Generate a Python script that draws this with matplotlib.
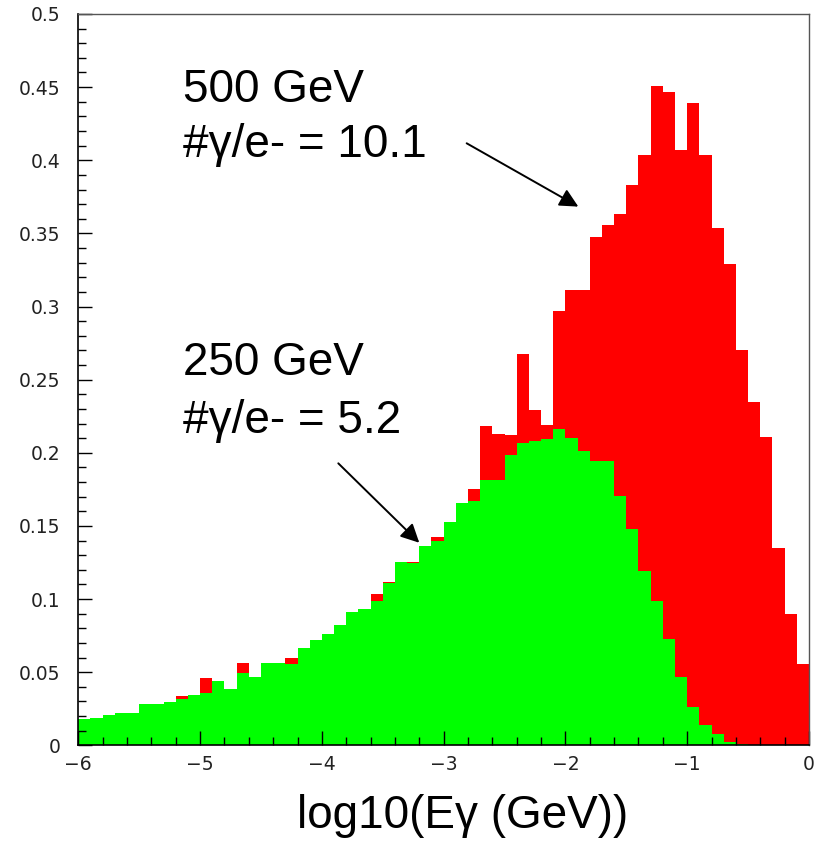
import numpy as np
import matplotlib
matplotlib.use("Agg")
import matplotlib.pyplot as plt

# photon spectrum per electron, bins of 0.1 in log10(E) from -6 to 0
bin_lo = -6.0
bin_hi = 0.0
n_bins = 60

# 250 GeV beam (green)
h250 = [0.0178, 0.0189, 0.0210, 0.0219, 0.0219, 0.0283, 0.0283, 0.0294, 0.0314, 0.0346,
        0.0356, 0.0438, 0.0387, 0.0492, 0.0469, 0.0563, 0.0563, 0.0554, 0.0668, 0.0722,
        0.0763, 0.0825, 0.0909, 0.0930, 0.0985, 0.1108, 0.1253, 0.1244, 0.1360, 0.1400,
        0.1527, 0.1659, 0.1673, 0.1816, 0.1816, 0.1983, 0.2067, 0.2078, 0.2097, 0.2160,
        0.2099, 0.2013, 0.1943, 0.1943, 0.1702, 0.1482, 0.1192, 0.0990, 0.0730, 0.0470,
        0.0263, 0.0137, 0.0076, 0.0024, 0.0010, 0.0, 0.0, 0.0, 0.0, 0.0]

# 500 GeV beam (red)
h500 = [0.0178, 0.0189, 0.0210, 0.0219, 0.0219, 0.0283, 0.0283, 0.0294, 0.0337, 0.0346,
        0.0463, 0.0438, 0.0387, 0.0565, 0.0469, 0.0563, 0.0563, 0.0595, 0.0668, 0.0722,
        0.0763, 0.0825, 0.0909, 0.0930, 0.1035, 0.1119, 0.1253, 0.1253, 0.1360, 0.1422,
        0.1527, 0.1659, 0.1755, 0.2181, 0.2131, 0.2124, 0.2673, 0.2295, 0.2192, 0.2970,
        0.3110, 0.3110, 0.3477, 0.3556, 0.3633, 0.3828, 0.4039, 0.4507, 0.4467, 0.4070,
        0.4394, 0.4033, 0.3538, 0.3288, 0.2701, 0.2346, 0.2108, 0.1347, 0.0898, 0.0553]

x_ticks = [-6, -5, -4, -3, -2, -1, 0]
y_ticks = [0, 0.05, 0.1, 0.15, 0.2, 0.25, 0.3, 0.35, 0.4, 0.45, 0.5]
y_tick_labels = ["0", "0.05", "0.1", "0.15", "0.2", "0.25", "0.3", "0.35", "0.4", "0.45", "0.5"]

edges = np.linspace(bin_lo, bin_hi, n_bins + 1)

fig = plt.figure(figsize=(8.25, 8.42), dpi=100)
ax = fig.add_axes([0.0949, 0.1148, 0.8857, 0.8686])

ax.stairs(h500, edges, fill=True, color="#ff0000", linewidth=0)
ax.stairs(h250, edges, fill=True, color="#00ff00", linewidth=0)

ax.set_xlim(bin_lo, bin_hi)
ax.set_ylim(0, 0.5)

ax.set_xticks(x_ticks)
ax.set_xticklabels(["\u2212%d" % -v if v < 0 else "%d" % v for v in x_ticks])
ax.set_xticks(np.arange(-6, 0.01, 0.2), minor=True)
ax.set_yticks(y_ticks)
ax.set_yticklabels(y_tick_labels)
ax.set_yticks(np.arange(0, 0.501, 0.01), minor=True)

ax.tick_params(which="both", direction="in", top=False, right=False, width=1, color="black")
ax.tick_params(which="major", length=10)
ax.tick_params(which="minor", length=5.5)
ax.tick_params(axis="y", which="major", pad=13, labelsize=13.5, labelcolor="#222222")
ax.tick_params(axis="x", which="major", pad=7, labelsize=13.5, labelcolor="#222222")

for side in ["left", "bottom"]:
    ax.spines[side].set_color("black")
    ax.spines[side].set_linewidth(1.2)
for side in ["top", "right"]:
    ax.spines[side].set_color("#555555")
    ax.spines[side].set_linewidth(1.0)
ax.set_zorder(2)

big = dict(fontsize=33, family="Liberation Sans", color="black", va="baseline", ha="left")
ax.text(-5.14, 0.440, "500 GeV", **big)
ax.text(-5.14, 0.4024, "#\u03b3/e- = 10.1", **big)
ax.text(-5.14, 0.2532, "250 GeV", **big)
ax.text(-5.14, 0.2133, "#\u03b3/e- = 5.2", **big)

arrow = dict(arrowstyle="-|>", color="black", lw=1.4, mutation_scale=28, shrinkA=0, shrinkB=0)
ax.annotate("", xy=(-1.894, 0.3683), xytext=(-2.811, 0.4116), arrowprops=arrow)
ax.annotate("", xy=(-3.200, 0.1385), xytext=(-3.865, 0.1928), arrowprops=arrow)

fig.text(0.561, 14 / 842, "log10(E\u03b3 (GeV))", fontsize=33, family="Liberation Sans",
         ha="center", va="baseline")

fig.savefig("out.png", dpi=100)
